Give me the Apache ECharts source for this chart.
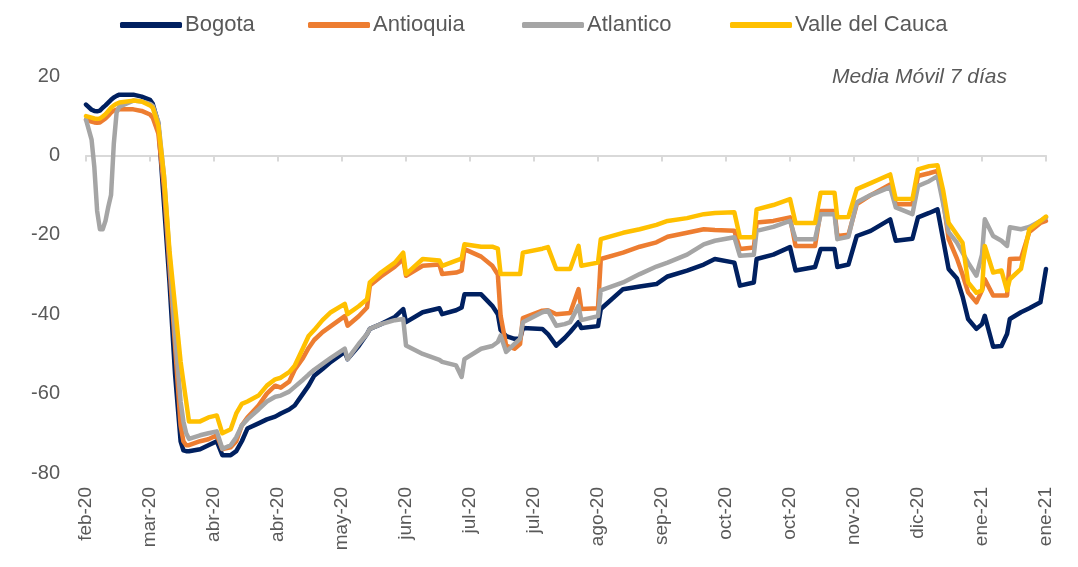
<!DOCTYPE html>
<html>
<head>
<meta charset="utf-8">
<script src="https://cdn.jsdelivr.net/npm/echarts@6/dist/echarts.min.js"></script>
<style>
  html, body { margin: 0; padding: 0; background: #fff; }
  #chart { width: 1078px; height: 567px; }
</style>
</head>
<body>
<div id="chart"></div>
<script>
// dias desde el 21-feb-2020 (media movil 7 dias)
const days = [0, 2, 3, 4, 5, 6, 7, 8, 9, 10, 11, 12, 17, 20, 23, 24, 26, 28, 30, 32, 34, 35, 36, 37,
  41, 44, 47, 49, 52, 54, 56, 58, 62, 65, 68, 70, 73, 75, 78, 80, 82, 85, 88, 93, 94, 98, 101, 102,
  106, 111, 114, 115, 121, 127, 128, 133, 135, 136, 142, 146, 148, 149, 151, 154, 156, 157, 164, 166,
  169, 172, 174, 177, 178, 184, 185, 193, 199, 205, 209, 216, 222, 226, 233, 235, 240, 241, 247, 253,
  255, 262, 264, 269, 270, 274, 277, 282, 289, 291, 297, 299, 303, 306, 308, 310, 313, 315, 317, 320,
  322, 323, 326, 329, 331, 332, 336, 339, 343, 345];

const bogota = [12.8, 11.5, 11.2, 11.1, 11.3, 12.0, 12.6, 13.3, 14.0, 14.6, 15.0, 15.3, 15.3, 14.8, 14.0, 13.0, 8.0, -12, -32, -55, -72, -74.3, -74.5, -74.5,
  -74, -73, -72, -75.5, -75.5, -74.5, -72, -68.8, -67.5, -66.5, -65.8, -65, -64, -63, -60, -58, -55.5, -53.8, -52, -49.5, -51.3, -48, -45, -43.7,
  -42.5, -40.7, -38.7, -42, -39.5, -38.5, -40, -39, -38.3, -35, -35, -37.9, -40, -44, -45.5, -46.2, -46.2, -43.5, -43.7, -45,
  -47.9, -46, -44.5, -42, -43.5, -43, -38.7, -33.7, -33, -32.4, -30.5, -29, -27.5, -26.1, -27, -32.8, -32, -26.1, -25, -23.1,
  -29, -28.1, -23.6, -23.6, -28.1, -27.5, -20.3, -19, -16.1, -21.5, -21, -15.6, -14.5, -13.6, -21.1, -28.6, -31, -35.5, -41.2, -43.7,
  -42.5, -40.4, -48.2, -48, -45, -41.2, -39.5, -38.5, -37, -28.6];

const antioquia = [9.0, 8.5, 8.3, 8.2, 8.3, 8.8, 9.3, 10.0, 10.8, 11.3, 11.5, 11.6, 11.6, 11.2, 10.3, 9.5, 5.5, -8, -28, -48, -68, -72, -73, -73,
  -72, -71.5, -70.5, -74, -73.5, -72, -68, -66, -63, -60, -58, -58.5, -57, -54, -51, -48.5, -46.5, -44.5, -43, -40.5, -42.9, -40.5, -38.3, -32.8,
  -30.5, -28, -26.1, -30.3, -27.8, -27.5, -29.9, -29.5, -29, -23.6, -25.5, -27.8, -30, -40.4, -47.9, -48.7, -47.5, -41, -39.1, -39,
  -40, -39.8, -39.7, -33.7, -38.7, -38.5, -26.1, -24.5, -23, -21.9, -20.5, -19.5, -18.6, -18.8, -19, -23.6, -23.2, -16.9, -16.5, -15.6,
  -22.8, -22.8, -14, -14, -20.3, -20, -12.3, -10, -7.3, -12.3, -12.3, -5.2, -4.5, -3.9, -11, -21, -26, -30, -34.5, -37,
  -34, -31.2, -35.3, -35.3, -35.3, -26.1, -26, -19.3, -17, -16.5];

const atlantico = [9.0, 4.0, -3, -14, -18.6, -18.6, -16.5, -13, -10, 3, 10.8, 12.3, 13.8, 13.6, 13.0, 12.5, 8.5, -5, -25, -45, -62, -67, -70, -71.4,
  -70.5, -70, -69.5, -73.9, -73, -71, -68, -66.5, -64, -62, -60.8, -60.5, -59.5, -58.3, -56.5, -55.2, -54, -52.5, -51, -48.7, -51.3, -47.5, -45, -43.7,
  -42.5, -41.5, -41.2, -47.9, -50, -51.5, -52, -52.9, -55.8, -51.3, -48.7, -48, -47, -45.4, -49.5, -47.5, -46.2, -42, -39.5, -39.1,
  -42.9, -42.5, -42, -37.9, -41.5, -40.5, -34, -32, -29.9, -28, -27, -25, -22.4, -21.5, -20.6, -25.3, -25, -19, -18, -16.5,
  -21.1, -21.1, -14.8, -14.8, -21.1, -20.5, -11.8, -10, -8, -13.1, -14.8, -7.7, -6.5, -5.2, -12, -19.3, -22, -24.5, -27, -30.3,
  -25, -16.1, -20.3, -21.5, -22.8, -18.1, -18.6, -18, -16.5, -15.6];

const valle = [9.9, 9.5, 9.3, 9.2, 9.3, 9.8, 10.4, 11.2, 12.0, 12.6, 13.0, 13.3, 13.8, 13.6, 12.6, 12.0, 7.5, -5, -24, -38, -52, -57, -62, -67,
  -67, -66, -65.5, -70, -69, -65, -62.6, -62, -60.5, -58, -56.4, -56, -54.6, -53, -48.5, -45.5, -44, -41.5, -39.5, -37.4, -40, -38, -36.2, -32,
  -29.5, -27, -24.5, -29.9, -26.1, -26.5, -27.8, -26.5, -26, -22.4, -23, -23, -23.5, -29.9, -29.9, -29.9, -29.9, -24.5, -23.5, -23.1,
  -28.6, -28.6, -28.6, -22.8, -27.8, -27, -21.1, -19.5, -18.6, -17.5, -16.5, -15.8, -14.8, -14.5, -14.3, -20.6, -20.6, -13.6, -12.5, -11,
  -17, -17, -9.4, -9.4, -15.6, -15.5, -8.5, -7, -4.8, -11, -11, -3.5, -2.7, -2.5, -8.7, -17, -20, -22, -32, -34.6,
  -34, -22.8, -29.5, -29, -34, -31.2, -28.6, -18.6, -16.5, -15.4];

const tickLabels = ['feb-20', 'mar-20', 'abr-20', 'abr-20', 'may-20', 'jun-20', 'jul-20', 'jul-20',
  'ago-20', 'sep-20', 'oct-20', 'oct-20', 'nov-20', 'dic-20', 'ene-21', 'ene-21'];

const names = ['Bogota', 'Antioquia', 'Atlantico', 'Valle del Cauca'];
const colors = ['#002060', '#ED7D31', '#A5A5A5', '#FFC000'];
const values = [bogota, antioquia, atlantico, valle];

const FONT = "'Liberation Sans', Arial, sans-serif";
const GRAY = '#595959';

const chart = echarts.init(document.getElementById('chart'));

// una leyenda por serie para ubicar cada una como en el original
const legendLeft = [115, 303, 517, 725];
const legends = names.map((n, i) => ({
  data: [n],
  left: legendLeft[i],
  top: 9,
  icon: 'roundRect',
  itemWidth: 62,
  itemHeight: 6,
  itemGap: 4,
  textStyle: { color: GRAY, fontSize: 22, fontFamily: FONT, padding: [0, 0, 0, -2] }
}));

chart.setOption({
  animation: false,
  color: colors,
  legend: legends,
  title: {
    text: 'Media Móvil 7 días',
    right: 66,
    top: 62,
    textStyle: { color: GRAY, fontSize: 21, fontStyle: 'italic', fontWeight: 'normal', fontFamily: FONT }
  },
  grid: { left: 86, right: 32, top: 76, bottom: 94 },
  xAxis: [
    {
      type: 'value',
      min: 0,
      max: 345,
      interval: 23,
      splitLine: { show: false },
      axisLine: { show: false, onZero: false },
      axisTick: { show: false },
      axisLabel: {
        rotate: 90,
        margin: 14,
        color: GRAY,
        fontSize: 19,
        fontFamily: FONT,
        formatter: v => tickLabels[Math.round(v / 23)]
      }
    },
    {
      type: 'value',
      position: 'top',
      min: 0,
      max: 345,
      interval: 23,
      splitLine: { show: false },
      axisLine: { show: true, onZero: true, lineStyle: { color: '#D9D9D9', width: 2 } },
      axisTick: { show: true, inside: true, length: 6, lineStyle: { color: '#D9D9D9', width: 2 } },
      axisLabel: { show: false }
    }
  ],
  yAxis: {
    type: 'value',
    min: -80,
    max: 20,
    interval: 20,
    splitLine: { show: false },
    axisLine: { show: false },
    axisTick: { show: false },
    axisLabel: { color: GRAY, fontSize: 20, fontFamily: FONT, margin: 26 }
  },
  series: names.map((n, i) => ({
    name: n,
    type: 'line',
    xAxisIndex: 0,
    showSymbol: false,
    symbol: 'none',
    lineStyle: { width: 4.5, color: colors[i], join: 'round', cap: 'round' },
    itemStyle: { color: colors[i] },
    data: days.map((d, k) => [d, values[i][k]])
  }))
});
</script>
</body>
</html>
